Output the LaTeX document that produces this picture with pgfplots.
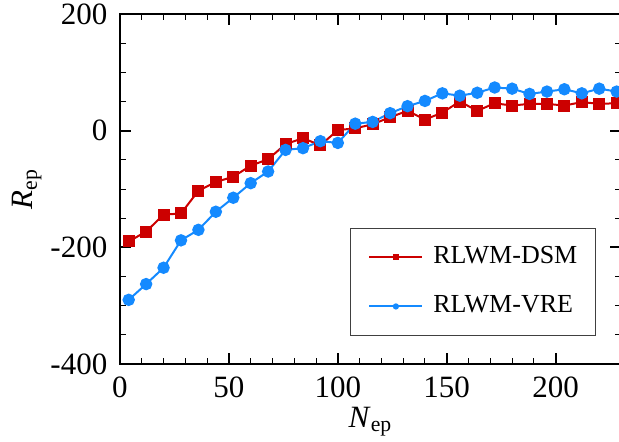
\documentclass[border=0pt]{standalone}
\usepackage{fontspec}
\setmainfont{Liberation Serif}
\usepackage{amsmath}
\usepackage{pgfplots}
\pgfplotsset{compat=1.18}
\usetikzlibrary{calc}

\definecolor{dsmred}{RGB}{204,0,0}
\definecolor{vreblue}{RGB}{20,138,255}

\begin{document}
\fontsize{15.5}{18}\selectfont
\begin{tikzpicture}
\begin{axis}[
  name=ax,
  scale only axis,
  width=250.5pt, height=175pt,
  xmin=0, xmax=230,
  ymin=-400, ymax=200,
  xtick={0,50,100,150,200},
  ytick={-400,-200,0,200},
  yticklabels={-400,-200,0,200},
  minor x tick num=4,
  minor y tick num=3,
  tick align=inside,
  tick pos=both,
  major tick length=5.5pt,
  minor tick length=3pt,
  every tick/.style={black, line width=0.5pt},
  every major tick/.append style={line width=1pt},
  axis line style={line width=1pt},
  /pgf/number format/assume math mode=true,
  xticklabel style={yshift=-1pt},
  yticklabel style={xshift=-1pt},
  xlabel={\textit{N}$_{\text{ep}}$},
  ylabel={\textit{R}$_{\text{ep}}$},
  xlabel style={yshift=6pt},
  ylabel style={yshift=-6pt},
  legend style={
    at={(0.950,0.389)}, anchor=north east,
    draw=black!75, line width=0.6pt,
    inner xsep=9pt, inner ysep=8.5pt,
    row sep=12.5pt,
    font=\fontsize{13}{15}\selectfont,
    nodes={inner sep=0pt, text height=9pt, text depth=3pt},
    /tikz/every odd column/.append style={column sep=5pt},
  },
  legend cell align=left,
  legend image code/.code={
    \draw[#1, mark options={scale=0.4}, mark repeat=2, mark phase=2]
      plot coordinates {(0pt,0pt) (13.25pt,0pt) (26.5pt,0pt)};
  },
]
\addplot[color=dsmred, line width=1pt, mark=square*, mark size=2.5pt,
  mark options={solid, fill=dsmred}] coordinates {
  (4,-190) (12,-173) (20,-144) (28,-142) (36,-103) (44,-88) (52,-79)
  (60,-60) (68,-49) (76,-23) (84,-13) (92,-25) (100,1) (108,4)
  (116,11) (124,23) (132,34) (140,19) (148,31) (156,50) (164,34)
  (172,47) (180,43) (188,46) (196,46) (204,43) (212,49) (220,46) (228,47)
};
\addlegendentry{RLWM-DSM}
\addplot[color=vreblue, line width=1pt, mark=*, mark size=2.6pt,
  mark options={solid, fill=vreblue}] coordinates {
  (4,-290) (12,-263) (20,-235) (28,-188) (36,-170) (44,-139) (52,-115)
  (60,-90) (68,-70) (76,-33) (84,-30) (92,-18) (100,-21) (108,12)
  (116,15) (124,30) (132,42) (140,51) (148,64) (156,60) (164,65)
  (172,74) (180,72) (188,63) (196,67) (204,71) (212,64) (220,72) (228,67)
};
\addlegendentry{RLWM-VRE}
\end{axis}
\pgfresetboundingbox
\useasboundingbox ($(ax.south west)+(-60pt,-39pt)$) rectangle ($(ax.north east)+(-1pt,7pt)$);
\end{tikzpicture}
\end{document}
